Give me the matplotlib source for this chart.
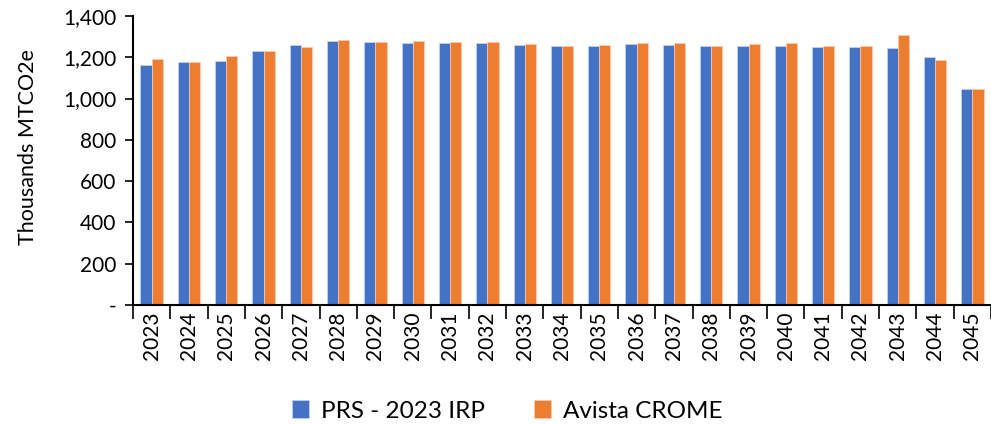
import matplotlib
matplotlib.use("Agg")
import matplotlib.pyplot as plt
import numpy as np
from matplotlib.ticker import FuncFormatter, FixedLocator

years = [str(y) for y in range(2023, 2046)]
prs = [1162, 1178, 1184, 1231, 1260, 1278, 1275, 1268, 1268, 1268, 1260, 1254,
       1254, 1264, 1260, 1255, 1254, 1255, 1249, 1248, 1246, 1202, 1046]
avista = [1191, 1176, 1207, 1231, 1252, 1286, 1276, 1278, 1273, 1273, 1264, 1255,
          1260, 1270, 1270, 1255, 1262, 1267, 1255, 1254, 1307, 1186, 1046]

plt.rcParams['font.family'] = ['Lato', 'DejaVu Sans']
fig = plt.figure(figsize=(9.91, 4.24), dpi=100)
ax = fig.add_axes([133/991, 1 - 305/424, (991-133)/991, (305-16)/424])

x = np.arange(len(years))
w = 0.3
ax.bar(x - w/2, prs, w, color='#4472C4', label='PRS - 2023 IRP', edgecolor='#c9d6ee', linewidth=0.5)
ax.bar(x + w/2, avista, w, color='#ED7D31', label='Avista CROME', edgecolor='#f8cfb3', linewidth=0.5)

ax.set_xlim(-0.5, len(years) - 0.5)
ax.set_ylim(0, 1400)
ax.set_yticks(range(0, 1401, 200))
ax.yaxis.set_major_formatter(FuncFormatter(lambda v, p: '-' if v == 0 else f'{int(v):,}'))
ax.set_xticks(x)
ax.set_xticklabels(years, rotation=90)
ax.xaxis.set_minor_locator(FixedLocator(np.arange(-0.5, len(years), 1)))
ax.tick_params(axis='x', which='major', length=0, labelsize=15, pad=5)
ax.tick_params(axis='x', which='minor', length=10, width=1.2, color='black')
ax.tick_params(axis='y', length=6, width=1.2, labelsize=15, pad=6)

for s in ['top', 'right']:
    ax.spines[s].set_visible(False)
for s in ['left', 'bottom']:
    ax.spines[s].set_linewidth(1.5)
    ax.spines[s].set_color('black')

ax.set_ylabel('Thousands MTCO2e', fontsize=15.5)
ax.yaxis.set_label_coords((38 - 133) / 858, (305 - 147) / 289)

fig.legend(loc='center', bbox_to_anchor=(507/991, 1 - 411/424), ncol=2, frameon=False,
           fontsize=17.5, handlelength=0.7, handleheight=0.7, columnspacing=2.0, handletextpad=0.5)

fig.savefig('out.png', dpi=100)
